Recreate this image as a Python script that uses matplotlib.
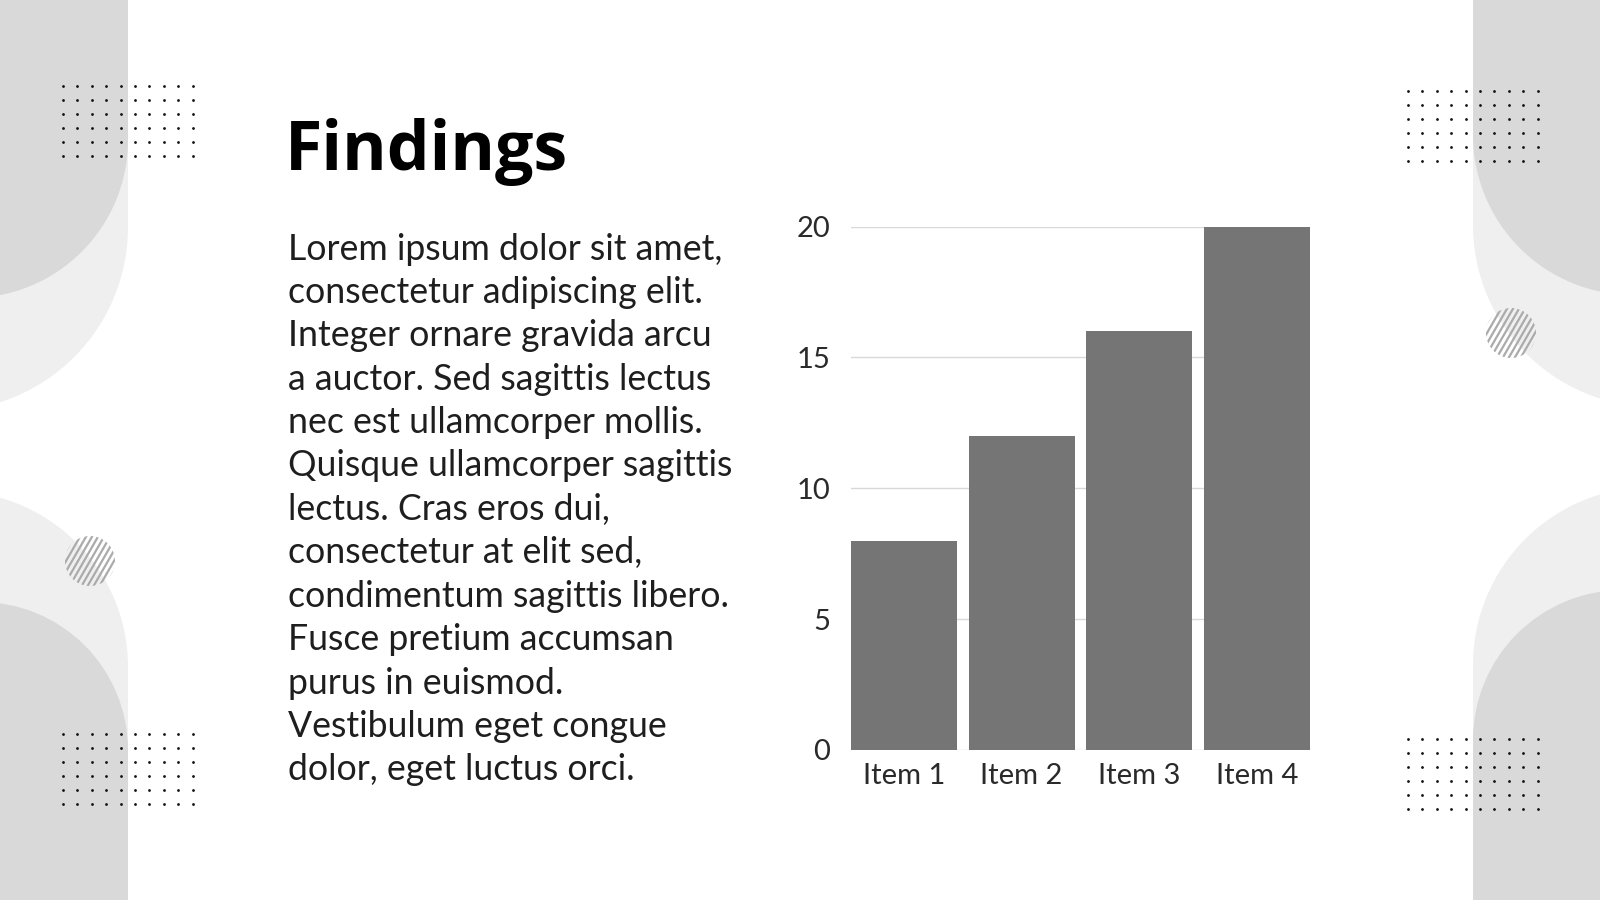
import numpy as np
import matplotlib.pyplot as plt
from matplotlib.patches import Circle, Rectangle

# chart data
items = ['Item 1', 'Item 2', 'Item 3', 'Item 4']
values = [8, 12, 16, 20]
yticks = [0, 5, 10, 15, 20]

title = 'Findings'
body_lines = [
    'Lorem ipsum dolor sit amet,',
    'consectetur adipiscing elit.',
    'Integer ornare gravida arcu',
    'a auctor. Sed sagittis lectus',
    'nec est ullamcorper mollis.',
    'Quisque ullamcorper sagittis',
    'lectus. Cras eros dui,',
    'consectetur at elit sed,',
    'condimentum sagittis libero.',
    'Fusce pretium accumsan',
    'purus in euismod.',
    'Vestibulum eget congue',
    'dolor, eget luctus orci.',
]

DARK = '#d9d9d9'
LIGHT = '#efefef'
BAR = '#757575'

fig = plt.figure(figsize=(16, 9), dpi=100)
fig.patch.set_facecolor('white')

# background layer in pixel coordinates
bg = fig.add_axes([0, 0, 1, 1])
bg.set_xlim(0, 1600)
bg.set_ylim(900, 0)
bg.axis('off')


def side_shape(ax, edge, side, y_start, r, color, down):
    # rectangle with one rounded outer corner, running off the page edge
    cx = edge - r if side == 'left' else edge + r
    if side == 'left':
        x0, w = -400, edge + 400
    else:
        x0, w = edge, 2000 - edge
    if down:
        ax.add_patch(Rectangle((x0, -10), w, y_start + 10, color=color, lw=0))
    else:
        ax.add_patch(Rectangle((x0, y_start), w, 1000 - y_start, color=color, lw=0))
    ax.add_patch(Circle((cx, y_start), r, color=color, lw=0))


# left band
side_shape(bg, 128, 'left', 227, 184, LIGHT, True)
side_shape(bg, 128, 'left', 140, 158, DARK, True)
side_shape(bg, 128, 'left', 667, 176, LIGHT, False)
side_shape(bg, 128, 'left', 750, 148, DARK, False)
# right band
side_shape(bg, 1473, 'right', 225, 182, LIGHT, True)
side_shape(bg, 1473, 'right', 135, 160, DARK, True)
side_shape(bg, 1473, 'right', 665, 178, LIGHT, False)
side_shape(bg, 1473, 'right', 740, 150, DARK, False)

# dot grids
for gx, gy in [(63, 86), (63, 734), (1408, 91), (1408, 739)]:
    xs, ys = np.meshgrid(gx + np.arange(10) * 14.4, gy + np.arange(6) * 14)
    bg.scatter(xs.ravel(), ys.ravel(), s=4, color='#111111', lw=0, zorder=5)

# striped circles
for ccx, ccy in [(90, 561), (1511, 333)]:
    clip = Circle((ccx, ccy), 25, transform=bg.transData, fc='none', ec='none')
    bg.add_patch(clip)
    for k in range(-8, 9):
        off = k * 6.0
        ln, = bg.plot([ccx + off - 30, ccx + off + 30], [ccy + 52, ccy - 52],
                      color='#ababab', lw=1.6, zorder=6)
        ln.set_clip_path(clip)

# text
bg.text(285, 170, title, fontsize=49, fontweight='bold', family='Open Sans',
        color='black', va='baseline', ha='left')
for i, line in enumerate(body_lines):
    bg.text(288, 249 + i * 43.4, line, fontsize=25.7, family='Lato',
            color='#1e1e1e', va='center', ha='left')

# bar chart
ax = fig.add_axes([851 / 1600, 1 - 750 / 900, (1310 - 851) / 1600, (750 - 226.5) / 900])
ax.set_facecolor('none')
x = np.arange(len(items))
ax.bar(x, values, width=0.9, color=BAR, lw=0, zorder=3)
ax.set_xlim(-0.45, len(items) - 0.55)
ax.set_ylim(0, 20)
ax.set_yticks(yticks)
ax.set_xticks(x)
ax.set_xticklabels(items)
ax.grid(axis='y', color='#d9d9d9', lw=1, zorder=0)
ax.tick_params(length=0, labelsize=21, colors='#2a2a2a')
for lab in ax.get_xticklabels() + ax.get_yticklabels():
    lab.set_family('Lato')
ax.tick_params(axis='y', pad=15)
ax.tick_params(axis='x', pad=9)
for s in ax.spines.values():
    s.set_visible(False)

fig.savefig('out.png', dpi=100)
